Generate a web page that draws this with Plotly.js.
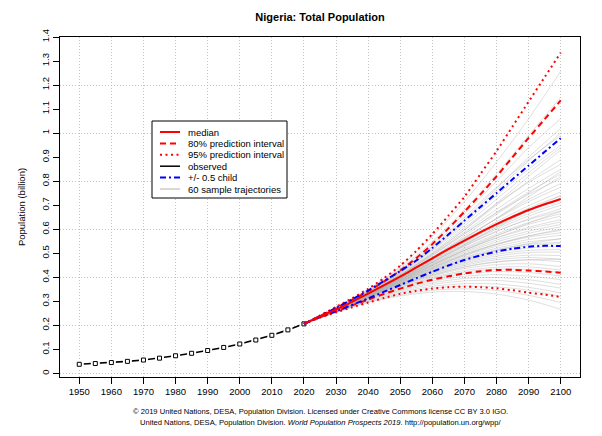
<!DOCTYPE html>
<html>
<head>
<meta charset="utf-8">
<script src="https://cdn.plot.ly/plotly-3.0.1.min.js"></script>
<style>html,body{margin:0;padding:0;background:#fff;}#chart{width:602px;height:436px;}</style>
</head>
<body>
<div id="chart"></div>
<script>
// ---------- data (population, billions) ----------
const obsYears = [1950,1955,1960,1965,1970,1975,1980,1985,1990,1995,2000,2005,2010,2015,2020];
const observed = [0.0379,0.0411,0.0451,0.0501,0.0556,0.0634,0.0734,0.0836,0.0952,0.1080,0.1223,0.1389,0.1585,0.1811,0.2061];

const projYears = [2020,2025,2030,2035,2040,2045,2050,2055,2060,2065,2070,2075,2080,2085,2090,2095,2100];
const median   = [0.206,0.237,0.266,0.298,0.332,0.367,0.403,0.441,0.479,0.517,0.553,0.588,0.621,0.652,0.680,0.704,0.726];
const upper80  = [0.206,0.239,0.272,0.306,0.342,0.383,0.428,0.480,0.538,0.603,0.673,0.745,0.820,0.900,0.980,1.058,1.136];
const lower80  = [0.206,0.234,0.258,0.283,0.307,0.331,0.353,0.373,0.390,0.404,0.416,0.425,0.430,0.431,0.428,0.424,0.419];
const upper95  = [0.206,0.241,0.277,0.313,0.352,0.397,0.448,0.510,0.580,0.656,0.735,0.830,0.925,1.028,1.131,1.233,1.335];
const lower95  = [0.206,0.232,0.254,0.275,0.295,0.314,0.331,0.344,0.353,0.359,0.361,0.359,0.354,0.346,0.336,0.328,0.318];
const upperHalfChild = [0.206,0.238,0.272,0.308,0.345,0.385,0.426,0.470,0.522,0.578,0.636,0.693,0.750,0.808,0.865,0.922,0.979];
const lowerHalfChild = [0.206,0.235,0.259,0.285,0.312,0.340,0.368,0.396,0.423,0.449,0.472,0.491,0.507,0.519,0.527,0.531,0.530];

// 60 sample trajectories, values at trajYears
const trajYears = [2020,2030,2040,2050,2060,2070,2080,2090,2100];
const trajectories = [
 [0.206,.276,.350,.445,.570,.715,.880,1.06,1.257],
 [0.206,.272,.345,.432,.540,.665,.800,.940,1.06],
 [0.206,.270,.340,.425,.525,.640,.770,.900,1.02],
 [0.206,.274,.346,.438,.548,.680,.830,.990,1.15],
 [0.206,.271,.342,.428,.530,.650,.775,.890,.99],
 [0.206,.269,.338,.418,.512,.615,.725,.835,.94],
 [0.206,.270,.340,.420,.515,.625,.740,.850,.95],
 [0.206,.268,.336,.412,.500,.597,.700,.800,.89],
 [0.206,.269,.337,.415,.505,.605,.705,.795,.87],
 [0.206,.268,.335,.410,.495,.588,.683,.770,.85],
 [0.206,.267,.334,.408,.490,.580,.670,.755,.83],
 [0.206,.268,.334,.409,.492,.582,.668,.745,.81],
 [0.206,.266,.332,.404,.481,.563,.645,.724,.79],
 [0.206,.267,.333,.405,.483,.565,.643,.715,.775],
 [0.206,.266,.331,.402,.478,.556,.631,.698,.755],
 [0.206,.266,.331,.401,.475,.551,.623,.688,.74],
 [0.206,.265,.330,.399,.471,.545,.615,.678,.73],
 [0.206,.266,.331,.400,.473,.547,.616,.676,.725],
 [0.206,.265,.329,.397,.468,.539,.606,.665,.71],
 [0.206,.265,.329,.396,.466,.535,.600,.655,.70],
 [0.206,.264,.328,.394,.462,.529,.590,.643,.685],
 [0.206,.265,.328,.395,.463,.530,.592,.640,.675],
 [0.206,.264,.327,.392,.458,.522,.580,.628,.665],
 [0.206,.264,.327,.391,.456,.518,.574,.620,.655],
 [0.206,.263,.326,.389,.452,.512,.565,.608,.64],
 [0.206,.264,.326,.390,.453,.512,.563,.602,.63],
 [0.206,.263,.325,.387,.449,.506,.555,.592,.62],
 [0.206,.263,.325,.386,.446,.501,.547,.583,.61],
 [0.206,.262,.324,.384,.442,.495,.539,.572,.595],
 [0.206,.263,.324,.384,.443,.495,.537,.567,.585],
 [0.206,.262,.323,.382,.439,.489,.529,.557,.575],
 [0.206,.262,.322,.380,.435,.483,.521,.547,.56],
 [0.206,.262,.322,.379,.433,.480,.515,.538,.545],
 [0.206,.261,.321,.377,.430,.475,.510,.532,.54],
 [0.206,.261,.320,.375,.426,.469,.502,.522,.53],
 [0.206,.261,.320,.374,.424,.465,.495,.512,.515],
 [0.206,.260,.319,.372,.420,.460,.488,.503,.505],
 [0.206,.260,.318,.370,.417,.455,.480,.492,.49],
 [0.206,.260,.318,.369,.414,.450,.473,.482,.475],
 [0.206,.259,.317,.367,.410,.444,.465,.472,.465],
 [0.206,.259,.316,.364,.405,.436,.453,.456,.445],
 [0.206,.258,.314,.360,.400,.428,.442,.443,.43],
 [0.206,.258,.313,.358,.396,.422,.434,.432,.42],
 [0.206,.257,.312,.355,.391,.414,.424,.420,.405],
 [0.206,.257,.310,.351,.384,.404,.411,.405,.39],
 [0.206,.256,.308,.347,.377,.395,.399,.390,.37],
 [0.206,.256,.306,.343,.370,.385,.387,.375,.355],
 [0.206,.255,.303,.338,.362,.373,.372,.358,.335],
 [0.206,.255,.300,.333,.355,.363,.360,.346,.32],
 [0.206,.254,.297,.327,.346,.352,.345,.325,.295],
 [0.206,.253,.294,.322,.338,.341,.330,.305,.267],
 [0.206,.265,.330,.400,.478,.560,.645,.735,.82],
 [0.206,.267,.334,.410,.498,.598,.708,.820,.93],
 [0.206,.269,.339,.420,.520,.635,.760,.885,1.00],
 [0.206,.266,.332,.404,.484,.572,.662,.750,.84],
 [0.206,.264,.328,.393,.462,.535,.608,.678,.74],
 [0.206,.263,.326,.388,.450,.512,.572,.625,.675],
 [0.206,.262,.323,.381,.438,.491,.536,.572,.60],
 [0.206,.261,.320,.376,.428,.474,.512,.540,.56],
 [0.206,.259,.316,.365,.408,.442,.463,.473,.475]
];

const xTickVals = [1950,1960,1970,1980,1990,2000,2010,2020,2030,2040,2050,2060,2070,2080,2090,2100];
const yTickVals = [0,0.1,0.2,0.3,0.4,0.5,0.6,0.7,0.8,0.9,1,1.1,1.2,1.3,1.4];
const yTickText = ["0","0.1","0.2","0.3","0.4","0.5","0.6","0.7","0.8","0.9","1","1.1","1.2","1.3","1.4"];
const legendLabels = ["median","80% prediction interval","95% prediction interval","observed","+/- 0.5 child","60 sample trajectories"];

// ---------- styles ----------
const RED = "#ff0000", BLUE = "#0000ff", GRAY = "rgba(170,170,170,0.55)";
const sDash = "6px,4px", sDot = "2px,3.5px", sDashDot = "6px,3px,2px,3px";
const legendStyles = [
  {color:RED, width:2, dash:"solid"},
  {color:RED, width:2, dash:sDash},
  {color:RED, width:2, dash:sDot},
  {color:"#000000", width:1.5, dash:"solid"},
  {color:BLUE, width:2, dash:sDashDot},
  {color:"#bebebe", width:1.2, dash:"solid"}
];

const traces = [];
trajectories.forEach((t,i)=>{
  traces.push({x:trajYears, y:t, type:"scatter", mode:"lines", name:legendLabels[5],
    line:{color:GRAY, width:0.7, shape:"spline", smoothing:0.8}, showlegend:false, hoverinfo:"skip"});
});
traces.push({x:obsYears, y:observed, type:"scatter", mode:"lines", name:legendLabels[3],
  line:{color:"#000", width:1.6}, showlegend:false});
traces.push({x:obsYears, y:observed, type:"scatter", mode:"markers", showlegend:false, hoverinfo:"skip",
  marker:{symbol:"square", size:9, color:"#ffffff", line:{width:0}}});
traces.push({x:obsYears, y:observed, type:"scatter", mode:"markers", showlegend:false,
  marker:{symbol:"square-open", size:4, color:"#000", line:{width:1, color:"#000"}}});
function band(y, name, st){
  traces.push({x:projYears, y:y, type:"scatter", mode:"lines", name:name, showlegend:false,
    line:{color:st.color, width:st.width, dash:st.dash, shape:"spline", smoothing:0.6}});
}
band(lower95, legendLabels[2], legendStyles[2]);
band(upper95, legendLabels[2], legendStyles[2]);
band(lower80, legendLabels[1], legendStyles[1]);
band(upper80, legendLabels[1], legendStyles[1]);
band(lowerHalfChild, legendLabels[4], legendStyles[4]);
band(upperHalfChild, legendLabels[4], legendStyles[4]);
band(median, legendLabels[0], legendStyles[0]);

// ---------- layout ----------
const L = 60, R = 22, T = 37, B = 59, W = 602, H = 436;
const pw = W - L - R, ph = H - T - B;
const px = v => (v - L) / pw;        // pixel -> paper x
const py = v => (H - B - v) / ph;    // pixel -> paper y

const shapes = [];
const annotations = [];
// legend box
shapes.push({type:"rect", xref:"paper", yref:"paper", x0:px(152), x1:px(287), y0:py(198), y1:py(121),
  line:{color:"#000", width:1}, fillcolor:"#fff", layer:"above"});
const rowY0 = 132, rowStep = 11.4;
legendLabels.forEach((lab,i)=>{
  const yy = py(rowY0 + i*rowStep);
  const st = legendStyles[i];
  shapes.push({type:"line", xref:"paper", yref:"paper", x0:px(160), x1:px(180), y0:yy, y1:yy,
    line:{color:st.color, width:st.width, dash:st.dash}, layer:"above"});
  annotations.push({xref:"paper", yref:"paper", x:px(186), y:yy, xanchor:"left", yanchor:"middle",
    text:lab, showarrow:false, font:{family:"Liberation Sans, Arial, sans-serif", size:9.5, color:"#000"}});
});
// footer
annotations.push({xref:"paper", yref:"paper", x:0.5, y:py(411), xanchor:"center", yanchor:"middle", showarrow:false,
  text:"© 2019 United Nations, DESA, Population Division. Licensed under Creative Commons license CC BY 3.0 IGO.",
  font:{family:"Liberation Sans, Arial, sans-serif", size:7.6, color:"#000"}});
annotations.push({xref:"paper", yref:"paper", x:0.5, y:py(422), xanchor:"center", yanchor:"middle", showarrow:false,
  text:"United Nations, DESA, Population Division. <i>World Population Prospects 2019</i>. http://population.un.org/wpp/",
  font:{family:"Liberation Sans, Arial, sans-serif", size:7.6, color:"#000"}});

const FONT = "Liberation Sans, Arial, sans-serif";
const GRID = "#c4c4c4", GRIDDASH = "1px,2px";
const layout = {
  width:W, height:H,
  margin:{l:L, r:R, t:T, b:B, pad:0},
  paper_bgcolor:"#fff", plot_bgcolor:"#fff",
  font:{family:FONT, size:9.5, color:"#000"},
  title:{text:"<b>Nigeria: Total Population</b>", x:0.5, xref:"paper", xanchor:"center", y:1-17/H, yanchor:"middle",
    font:{family:FONT, size:11, color:"#000"}},
  showlegend:false,
  xaxis:{range:[1944,2106], tickvals:xTickVals, ticktext:xTickVals.map(String),
    ticks:"outside", ticklen:6, tickcolor:"#000", tickwidth:1,
    showline:true, linecolor:"#000", linewidth:1, mirror:true,
    showgrid:true, gridcolor:GRID, griddash:GRIDDASH, gridwidth:1, zeroline:false,
    tickfont:{family:FONT, size:9.5, color:"#000"}, fixedrange:true},
  yaxis:{range:[-0.015,1.40], tickvals:yTickVals, ticktext:yTickText, tickangle:-90,
    ticks:"outside", ticklen:6, tickcolor:"#000", tickwidth:1,
    showline:true, linecolor:"#000", linewidth:1, mirror:true,
    showgrid:false, zeroline:false,
    tickfont:{family:FONT, size:9.5, color:"#000"},
    title:{text:"Population (billion)", font:{family:FONT, size:9.5, color:"#000"}, standoff:12}},
  yaxis2:{range:[-0.015,1.40], overlaying:"y", dtick:0.2, tick0:0, showticklabels:false, ticks:"",
    showline:false, showgrid:true, gridcolor:GRID, griddash:GRIDDASH, gridwidth:1, zeroline:false},
  shapes:shapes, annotations:annotations
};
// invisible trace to activate yaxis2 grid
traces.unshift({x:[1950], y:[0], yaxis:"y2", type:"scatter", mode:"markers", marker:{opacity:0}, showlegend:false, hoverinfo:"skip"});

Plotly.newPlot("chart", traces, layout, {displayModeBar:false, staticPlot:true});
</script>
</body>
</html>
